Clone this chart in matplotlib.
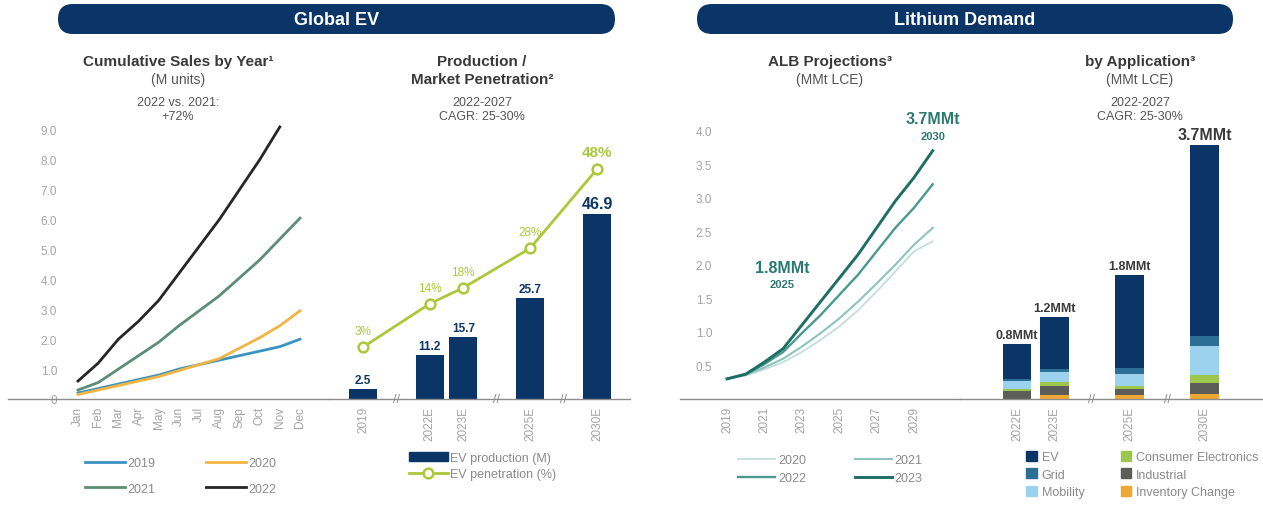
import matplotlib.pyplot as plt
from matplotlib.patches import FancyBboxPatch, Patch

plt.rcParams['font.family'] = ['Liberation Sans', 'DejaVu Sans']

W, H = 1263, 506

# Cumulative EV sales by month (M units)
months = ['Jan', 'Feb', 'Mar', 'Apr', 'May', 'Jun', 'Jul', 'Aug', 'Sep', 'Oct', 'Nov', 'Dec']
sales_2019 = [0.2, 0.35, 0.5, 0.65, 0.8, 1.0, 1.15, 1.3, 1.45, 1.6, 1.75, 2.0]
sales_2020 = [0.15, 0.3, 0.45, 0.6, 0.75, 0.95, 1.15, 1.35, 1.7, 2.05, 2.45, 2.95]
sales_2021 = [0.3, 0.55, 1.0, 1.45, 1.9, 2.45, 2.95, 3.45, 4.05, 4.65, 5.35, 6.05]
sales_2022 = [0.6, 1.2, 2.0, 2.6, 3.3, 4.2, 5.1, 6.0, 7.0, 8.0, 9.1]

# EV production and market penetration
prod_labels = ['2019', '2022E', '2023E', '2025E', '2030E']
prod_pos = [0, 2, 3, 5, 7]
ev_production = [2.5, 11.2, 15.7, 25.7, 46.9]
ev_penetration = [3, 14, 18, 28, 48]

# ALB lithium demand projections (MMt LCE)
alb_years = list(range(2019, 2031))
alb_2020 = [0.3, 0.35, 0.44, 0.55, 0.7, 0.88, 1.08, 1.32, 1.6, 1.9, 2.2, 2.35]
alb_2021 = [0.3, 0.36, 0.47, 0.6, 0.78, 0.98, 1.2, 1.45, 1.72, 2.0, 2.3, 2.55]
alb_2022 = [0.3, 0.37, 0.52, 0.7, 0.98, 1.25, 1.55, 1.85, 2.2, 2.55, 2.85, 3.2]
alb_2023 = [0.3, 0.37, 0.55, 0.75, 1.1, 1.45, 1.8, 2.15, 2.55, 2.95, 3.3, 3.7]

# Demand by application (MMt LCE)
app_labels = ['2022E', '2023E', '2025E', '2030E']
app_pos = [0, 1, 3, 5]
inventory = [0.0, 0.06, 0.06, 0.08]
industrial = [0.11, 0.13, 0.09, 0.15]
consumer = [0.03, 0.06, 0.04, 0.12]
mobility = [0.12, 0.14, 0.17, 0.42]
grid = [0.03, 0.05, 0.09, 0.15]
ev_demand = [0.51, 0.76, 1.35, 2.78]

NAVY = '#0c3567'
TICK = '#a3a3a3'
BASE = '#8c8c8c'
TXT = '#3a3a3a'


def px_axes(left, top, right, bottom):
    ax = fig.add_axes([left / W, 1 - bottom / H, (right - left) / W, (bottom - top) / H])
    ax.set_facecolor('none')
    for s in ax.spines.values():
        s.set_visible(False)
    return ax


def breaks(ax, xs):
    for x in xs:
        ax.text(x, 0, '//', ha='center', va='center', fontsize=9, color=BASE)


fig = plt.figure(figsize=(W / 100, H / 100), dpi=100)

# header bars and panel titles
bg = fig.add_axes([0, 0, 1, 1])
bg.set_xlim(0, W)
bg.set_ylim(H, 0)
bg.axis('off')
for x0, x1, label in [(58, 615, 'Global EV'), (697, 1233, 'Lithium Demand')]:
    bg.add_patch(FancyBboxPatch((x0, 5), x1 - x0, 30, boxstyle='round,pad=0,rounding_size=15',
                                fc=NAVY, ec='none'))
    bg.text((x0 + x1) / 2, 20, label, ha='center', va='center', color='white',
            fontsize=13, fontweight='bold')

titles = [
    (178, ['Cumulative Sales by Year¹', '(M units)', '2022 vs. 2021:', '+72%']),
    (482, ['Production /', 'Market Penetration²', '2022-2027', 'CAGR: 25-30%']),
    (830, ['ALB Projections³', '(MMt LCE)', None, None]),
    (1140, ['by Application³', '(MMt LCE)', '2022-2027', 'CAGR: 25-30%']),
]
for x, (t1, t2, n1, n2) in titles:
    bg.text(x, 62, t1, ha='center', va='center', fontsize=11, fontweight='bold', color=TXT)
    bold2 = t2.startswith('Market')
    bg.text(x, 80, t2, ha='center', va='center', fontsize=11 if bold2 else 10,
            fontweight='bold' if bold2 else 'normal', color=TXT if bold2 else '#555555')
    if n1:
        bg.text(x, 103, n1, ha='center', va='center', fontsize=9, color='#555555')
        bg.text(x, 117, n2, ha='center', va='center', fontsize=9, color='#555555')

# ---- cumulative sales ----
ax1 = px_axes(60, 120, 330, 400)
ax1.set_xlim(-18 / 20.18, 11 + 30 / 20.18)
ax1.set_ylim(0, 280 / 29.9)
l19, = ax1.plot(range(12), sales_2019, color='#3a93c3', lw=2)
l20, = ax1.plot(range(12), sales_2020, color='#f2b544', lw=2)
l21, = ax1.plot(range(12), sales_2021, color='#5b8e74', lw=2)
l22, = ax1.plot(range(11), sales_2022, color='#262626', lw=2)
ax1.set_yticks(range(10))
ax1.set_yticklabels(['0'] + [f'{v:.1f}' for v in range(1, 10)])
ax1.set_xticks(range(12))
ax1.set_xticklabels(months, rotation=90)
ax1.tick_params(axis='y', length=0, pad=2, labelsize=8.5, labelcolor=TICK)
ax1.tick_params(axis='x', length=0, pad=5, labelsize=8.5, labelcolor=TICK)
ax1.axhline(0, xmin=(8 - 60) / 270, xmax=1, color=BASE, lw=1, clip_on=False)
ax1.legend([l19, l21, l20, l22], ['2019', '2021', '2020', '2022'], ncol=2,
           loc='upper left', bbox_to_anchor=(85 / W, 1 - 458 / H), bbox_transform=fig.transFigure,
           frameon=False, fontsize=9, labelcolor='#8a8a8a', handlelength=3.2, handletextpad=0.15,
           columnspacing=4.1, labelspacing=1.1, borderpad=0, borderaxespad=0)

# ---- production / penetration ----
ax2 = px_axes(335, 140, 630, 400)
ax2.set_xlim(-28 / 33.4, 7 + 33 / 33.4)
ax2.set_ylim(0, 260 / 3.945)
ax2.bar(prod_pos, ev_production, width=0.84, color=NAVY)
for p, v in zip(prod_pos, ev_production):
    big = v == max(ev_production)
    ax2.annotate(f'{v:.1f}', (p, v), xytext=(0, 3), textcoords='offset pixels', ha='center',
                 va='bottom', fontsize=11.5 if big else 8.5, fontweight='bold', color=NAVY)
ax2.set_xticks(prod_pos)
ax2.set_xticklabels(prod_labels, rotation=90)
ax2.set_yticks([])
ax2.tick_params(axis='x', length=0, pad=5, labelsize=8.5, labelcolor=TICK)
ax2.axhline(0, xmin=(330 - 335) / 295, xmax=1, color=BASE, lw=1, clip_on=False)
breaks(ax2, [1, 4, 6])

ax2b = ax2.twinx()
ax2b.set_facecolor('none')
for s in ax2b.spines.values():
    s.set_visible(False)
ax2b.set_ylim(-40 / 3.955, 220 / 3.955)
ax2b.set_yticks([])
pen_line, = ax2b.plot(prod_pos, ev_penetration, color='#a9c93a', lw=2, marker='o', ms=7,
                      mfc='white', mec='#a9c93a', mew=1.8)
for p, v in zip(prod_pos, ev_penetration):
    big = v == max(ev_penetration)
    ax2b.annotate(f'{v}%', (p, v), xytext=(0, 10), textcoords='offset pixels', ha='center',
                  va='bottom', fontsize=11 if big else 8.5, fontweight='bold' if big else 'normal',
                  color='#a9c93a')
ax2.legend([Patch(color=NAVY), pen_line], ['EV production (M)', 'EV penetration (%)'],
           loc='upper left', bbox_to_anchor=(409 / W, 1 - 453 / H), bbox_transform=fig.transFigure,
           frameon=False, fontsize=9, labelcolor='#8a8a8a', handlelength=3.1, handletextpad=0.2,
           labelspacing=0.35, borderpad=0, borderaxespad=0)

# ---- ALB projections ----
ax3 = px_axes(715, 115, 960, 400)
ax3.set_xlim(2019 - 12 / 18.7, 2019 + 233 / 18.7)
ax3.set_ylim(0, 285 / 67.1)
a20, = ax3.plot(alb_years, alb_2020, color='#c3dfdb', lw=1.3)
a21, = ax3.plot(alb_years, alb_2021, color='#8ec3bb', lw=1.5)
a22, = ax3.plot(alb_years, alb_2022, color='#4a9990', lw=1.7)
a23, = ax3.plot(alb_years, alb_2023, color='#1d6f66', lw=2.1)
ax3.set_yticks([0.5, 1.0, 1.5, 2.0, 2.5, 3.0, 3.5, 4.0])
ax3.set_yticklabels([f'{v:.1f}' for v in [0.5, 1.0, 1.5, 2.0, 2.5, 3.0, 3.5, 4.0]])
ax3.set_xticks(range(2019, 2031, 2))
ax3.set_xticklabels([str(y) for y in range(2019, 2031, 2)], rotation=90)
ax3.tick_params(axis='y', length=0, pad=2, labelsize=8.5, labelcolor=TICK)
ax3.tick_params(axis='x', length=0, pad=5, labelsize=8.5, labelcolor=TICK)
ax3.axhline(0, xmin=(680 - 715) / 245, xmax=1, color=BASE, lw=1, clip_on=False)
for yr, dx, dy in [(2025, -57, 11), (2030, 0, 32)]:
    v = alb_2023[alb_years.index(yr)]
    ax3.annotate(f'{v:.1f}MMt', (yr, v), xytext=(dx, dy), textcoords='offset pixels',
                 ha='center', va='center', fontsize=11.5, fontweight='bold', color='#2a7a70')
    ax3.annotate(str(yr), (yr, v), xytext=(dx, dy - 17), textcoords='offset pixels',
                 ha='center', va='center', fontsize=8, fontweight='bold', color='#2a7a70')
ax3.legend([a20, a22, a21, a23], ['2020', '2022', '2021', '2023'], ncol=2,
           loc='upper left', bbox_to_anchor=(738 / W, 1 - 455 / H), bbox_transform=fig.transFigure,
           frameon=False, fontsize=9, labelcolor='#8a8a8a', handlelength=3.0, handletextpad=0.2,
           columnspacing=3.9, labelspacing=0.5, borderpad=0, borderaxespad=0)

# ---- demand by application ----
ax4 = px_axes(960, 115, 1263, 400)
ax4.set_xlim(-57 / 37.5, 5 + 58.5 / 37.5)
ax4.set_ylim(0, 285 / 68.7)
segments = [
    ('Inventory Change', inventory, '#f0a832'),
    ('Industrial', industrial, '#5c5c58'),
    ('Consumer Electronics', consumer, '#9cc64c'),
    ('Mobility', mobility, '#9bd3ee'),
    ('Grid', grid, '#2b6f96'),
    ('EV', ev_demand, NAVY),
]
bottom = [0.0] * len(app_pos)
handles = {}
for name, vals, col in segments:
    ax4.bar(app_pos, vals, bottom=bottom, width=0.77, color=col)
    handles[name] = Patch(color=col)
    bottom = [b + v for b, v in zip(bottom, vals)]
for p, total in zip(app_pos, bottom):
    big = total == max(bottom)
    ax4.annotate(f'{total:.1f}MMt', (p, total), xytext=(0, 3), textcoords='offset pixels',
                 ha='center', va='bottom', fontsize=11.5 if big else 9, fontweight='bold', color=TXT)
ax4.set_xticks(app_pos)
ax4.set_xticklabels(app_labels, rotation=90)
ax4.set_yticks([])
ax4.tick_params(axis='x', length=0, pad=5, labelsize=8.5, labelcolor=TICK)
ax4.axhline(0, xmin=0, xmax=1, color=BASE, lw=1, clip_on=False)
breaks(ax4, [2, 4])
order = ['EV', 'Grid', 'Mobility', 'Consumer Electronics', 'Industrial', 'Inventory Change']
ax4.legend([handles[n] for n in order], order, ncol=2,
           loc='upper left', bbox_to_anchor=(1026 / W, 1 - 452 / H), bbox_transform=fig.transFigure,
           frameon=False, fontsize=9, labelcolor='#8a8a8a', handlelength=0.85, handleheight=0.85,
           handletextpad=0.4, columnspacing=2.9, labelspacing=0.4, borderpad=0, borderaxespad=0)

fig.savefig('out.png', dpi=100)
